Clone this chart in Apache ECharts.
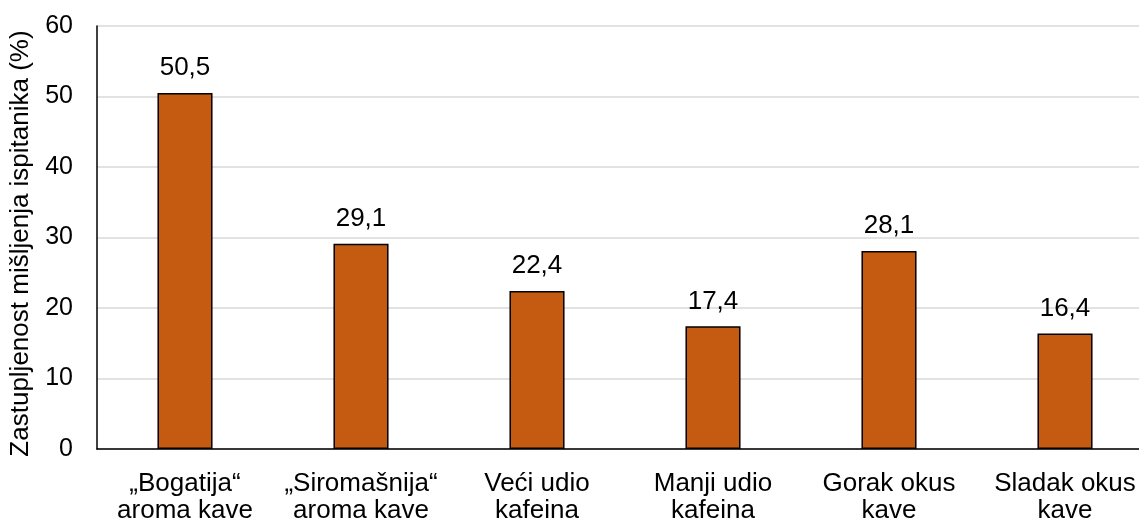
<!DOCTYPE html>
<html>
<head>
<meta charset="utf-8">
<script src="https://cdn.jsdelivr.net/npm/echarts@6/dist/echarts.min.js"></script>
<style>
  html, body { margin: 0; padding: 0; background: #fff; overflow: hidden; }
  #grafico { width: 1139px; height: 523px; }
</style>
</head>
<body>
<div id="grafico"></div>
<script>
	// DADOS DO GRAFICO
	var categorias = ['„Bogatija“\naroma kave', '„Siromašnija“\naroma kave', 'Veći udio\nkafeina', 'Manji udio\nkafeina', 'Gorak okus\nkave', 'Sladak okus\nkave'];
	var valores = [50.5, 29.1, 22.4, 17.4, 28.1, 16.4];
	var ticksY = [0, 10, 20, 30, 40, 50, 60];

	var fonte = 'Arial, "Liberation Sans", sans-serif';
	var myChart = echarts.init(document.getElementById('grafico'));

	var option = {
		animation: false,
		grid: {
			left: 97,
			right: -14,
			top: 26,
			bottom: 74,
			outerBoundsMode: 'none'
		},
		xAxis: {
			type: 'category',
			data: categorias,
			axisLine: { lineStyle: { color: '#000', width: 1.5 } },
			axisTick: { show: false },
			axisLabel: {
				color: '#000',
				fontSize: 26,
				fontFamily: fonte,
				lineHeight: 27,
				margin: 21,
				interval: 0
			}
		},
		yAxis: {
			type: 'value',
			min: ticksY[0],
			max: ticksY[ticksY.length - 1],
			interval: 10,
			name: 'Zastupljenost mišljenja ispitanika (%)',
			nameLocation: 'middle',
			nameGap: 62,
			nameTextStyle: { color: '#000', fontSize: 26, fontFamily: fonte, padding: [0, 12, 0, 0] },
			axisLine: { show: true, lineStyle: { color: '#000', width: 1.5 } },
			axisTick: { show: false },
			axisLabel: {
				color: '#000',
				fontSize: 25,
				fontFamily: fonte,
				margin: 24
			},
			splitLine: { lineStyle: { color: '#d9d9d9', width: 1.5 } }
		},
		series: [
			{
				type: 'bar',
				data: valores,
				barWidth: '31.3%',
				itemStyle: {
					color: '#C55A11',
					borderColor: '#000',
					borderWidth: 1.5
				},
				label: {
					show: true,
					position: 'top',
					distance: 12,
					color: '#000',
					fontSize: 26,
					fontFamily: fonte,
					formatter: function(p){ return String(p.value).replace('.', ','); }
				}
			}
		]
	};
	// aplico as alterações de layout no chart
	myChart.setOption(option);
</script>
</body>
</html>
